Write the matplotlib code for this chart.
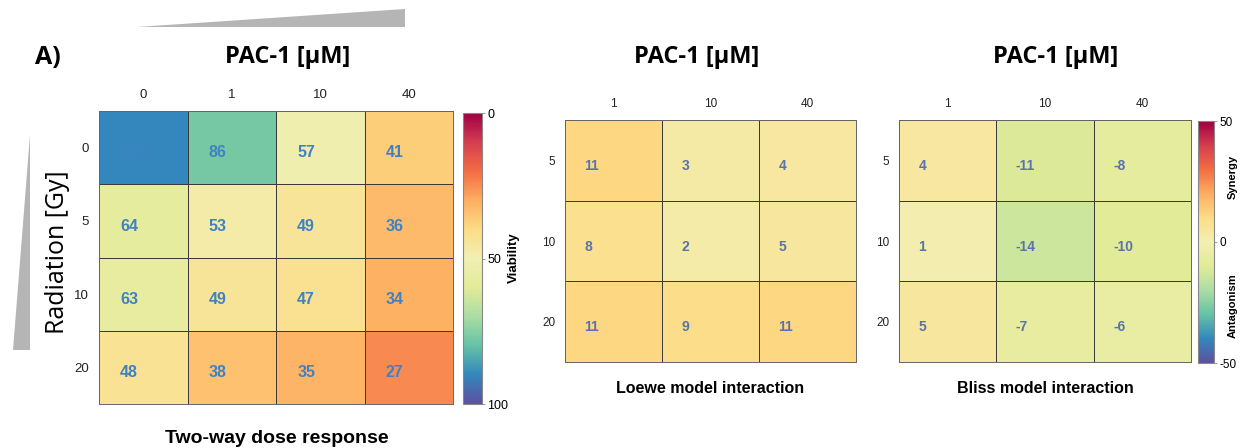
import numpy as np
import matplotlib
matplotlib.use("Agg")
import matplotlib.pyplot as plt
from matplotlib.colors import Normalize, LinearSegmentedColormap
from matplotlib.cm import ScalarMappable
from matplotlib.patches import Polygon

plt.rcParams["axes.unicode_minus"] = False

# dose levels
pac_doses = ["0", "1", "10", "40"]
rad_doses = ["0", "5", "10", "20"]
pac_combo = ["1", "10", "40"]
rad_combo = ["5", "10", "20"]

# viability (%) rows = radiation, cols = PAC-1
viability = [[100, 86, 57, 41],
             [64, 53, 49, 36],
             [63, 49, 47, 34],
             [48, 38, 35, 27]]

loewe = [[11, 3, 4],
         [8, 2, 5],
         [11, 9, 11]]

bliss = [[4, -11, -8],
         [1, -14, -10],
         [5, -7, -6]]

W, H = 1244, 448
fig = plt.figure(figsize=(W / 100, H / 100), dpi=100)
fig.patch.set_facecolor("white")

TITLE_FONT = ["Open Sans", "DejaVu Sans"]
TICK_FONT = ["Liberation Sans", "DejaVu Sans"]

# spectral-like map with a softer pale middle
spec_nodes = ["#9e0142", "#d53e4f", "#f46d43", "#fdae61", "#fddc86", "#f2efb3",
              "#e2eb98", "#abdda4", "#66c2a5", "#3288bd", "#5e4fa2"]
spectral = LinearSegmentedColormap.from_list("spec", spec_nodes)
spectral_r = LinearSegmentedColormap.from_list("spec_r", spec_nodes[::-1])


def px_axes(x0, y0, x1, y1):
    # axes from pixel box (top-left origin)
    return fig.add_axes([x0 / W, 1 - y1 / H, (x1 - x0) / W, (y1 - y0) / H])


def fig_xy(x, y):
    return x / W, 1 - y / H


def heatmap(ax, data, cols, rows, cmap, norm, fs_val, fs_tick, txt_color, x_off):
    data = np.array(data, dtype=float)
    ax.pcolormesh(np.arange(data.shape[1] + 1) - 0.5, np.arange(data.shape[0] + 1) - 0.5,
                  data, cmap=cmap, norm=norm, edgecolors="#3a3a3a", linewidth=0.6)
    ax.set_xlim(-0.5, data.shape[1] - 0.5)
    ax.set_ylim(data.shape[0] - 0.5, -0.5)
    ax.set_xticks(range(len(cols)))
    ax.set_xticklabels(cols, family=TICK_FONT, fontsize=fs_tick, color="#222222")
    ax.set_yticks(range(len(rows)))
    ax.set_yticklabels(rows, family=TICK_FONT, fontsize=fs_tick, color="#222222")
    ax.xaxis.tick_top()
    ax.tick_params(length=0, pad=7)
    for s in ax.spines.values():
        s.set_color("#666666")
        s.set_linewidth(0.7)
    for i in range(data.shape[0]):
        for j in range(data.shape[1]):
            ax.text(j + x_off, i + 0.07, f"{int(data[i, j])}", ha="left", va="center",
                    fontsize=fs_val, fontweight="bold", color=txt_color,
                    family=TICK_FONT)


def style_cbar(cb, fs):
    cb.ax.tick_params(labelsize=fs, length=2, width=0.6, color="#888888", pad=2)
    for t in cb.ax.get_yticklabels():
        t.set_family(TICK_FONT)
    cb.outline.set_edgecolor("#888888")
    cb.outline.set_linewidth(0.8)


# two-way dose response
ax1 = px_axes(99, 111, 453, 404)
heatmap(ax1, viability, pac_doses, rad_doses, spectral, Normalize(0, 111),
        11.5, 9.5, "#3f82c3", -0.26)

cax1 = px_axes(463, 113, 482, 404)
cb1 = fig.colorbar(ScalarMappable(norm=Normalize(0, 100), cmap=spectral), cax=cax1)
cax1.invert_yaxis()
cb1.set_ticks([0, 50, 100])
style_cbar(cb1, 9)
fig.text(*fig_xy(514, 258), "Viability", rotation=90, ha="center", va="center",
         fontsize=9.5, fontweight="bold", family=TICK_FONT)

# synergy maps
syn_norm = Normalize(-50, 50)
ax2 = px_axes(565, 120, 856, 362)
heatmap(ax2, loewe, pac_combo, rad_combo, spectral_r, syn_norm, 10, 8.5, "#5a73ad", -0.3)

ax3 = px_axes(899, 120, 1191, 362)
heatmap(ax3, bliss, pac_combo, rad_combo, spectral_r, syn_norm, 10, 8.5, "#5a73ad", -0.3)

cax3 = px_axes(1198, 121, 1214, 363)
cb3 = fig.colorbar(ScalarMappable(norm=syn_norm, cmap=spectral_r), cax=cax3)
cb3.set_ticks([-50, 0, 50])
style_cbar(cb3, 8.5)
fig.text(*fig_xy(1233, 177), "Synergy", rotation=90, ha="center", va="center",
         fontsize=8, fontweight="bold", family=TICK_FONT)
fig.text(*fig_xy(1233, 306), "Antagonism", rotation=90, ha="center", va="center",
         fontsize=8, fontweight="bold", family=TICK_FONT)

# titles and captions
fig.text(*fig_xy(48, 58), "A)", ha="center", va="center", fontsize=18,
         fontweight="bold", family=TITLE_FONT)
for cx in (288, 697, 1056):
    fig.text(*fig_xy(cx, 57), "PAC-1 [µM]", ha="center", va="center", fontsize=17,
             fontweight="bold", family=TITLE_FONT)
fig.text(*fig_xy(277, 438), "Two-way dose response", ha="center", va="center",
         fontsize=14, fontweight="bold", family=TICK_FONT)
fig.text(*fig_xy(710, 388), "Loewe model interaction", ha="center", va="center",
         fontsize=11.5, fontweight="bold", family=TICK_FONT)
fig.text(*fig_xy(1045, 388), "Bliss model interaction", ha="center", va="center",
         fontsize=11.5, fontweight="bold", family=TICK_FONT)
fig.text(*fig_xy(57, 252), "Radiation [Gy]", rotation=90, ha="center", va="center",
         fontsize=18, family=TITLE_FONT)

# dose wedges
wedge_top = Polygon([fig_xy(137, 27), fig_xy(405, 9), fig_xy(405, 27)],
                    closed=True, transform=fig.transFigure, color="#b5b5b5", lw=0)
wedge_left = Polygon([fig_xy(13, 350), fig_xy(30, 350), fig_xy(30, 135)],
                     closed=True, transform=fig.transFigure, color="#b5b5b5", lw=0)
fig.patches.extend([wedge_top, wedge_left])

fig.savefig("out.png", dpi=100, facecolor="white")
